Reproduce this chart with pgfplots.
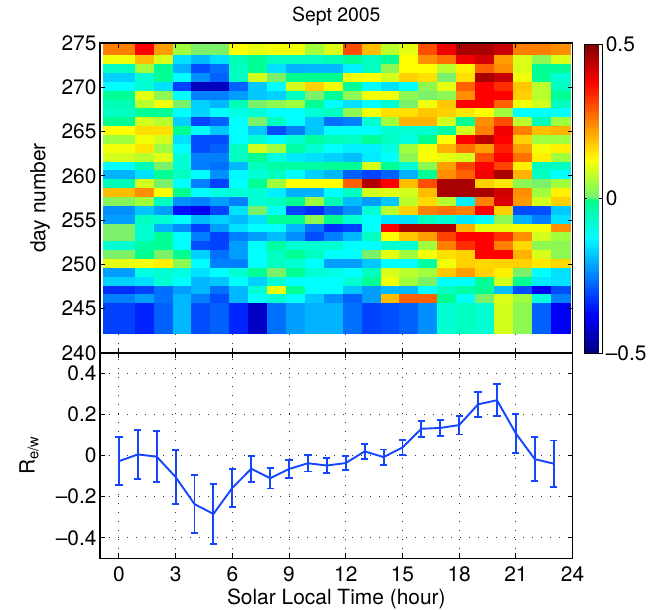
\documentclass[border=0pt]{standalone}
\usepackage{fontspec}
\setmainfont{TeX Gyre Heros}
\usepackage{pgfplots}
\pgfplotsset{compat=1.18}

\definecolor{lineblue}{RGB}{20,70,255}
\newcommand{\lbl}{\fontsize{21}{25}\selectfont}

\pgfplotsset{
  panel/.style={
    scale only axis, width=472.6bp,
    xmin=-1, xmax=24, xtick={0,3,...,24},
    xtick pos=both, ytick pos=both,
    tick align=inside, major tick length=5bp,
    axis line style={line width=1.3bp},
    every tick/.style={black, line width=0.9bp},
    /pgf/number format/assume math mode=true,
    tick label style={font=\lbl},
    label style={font=\lbl},
  },
  dotgrid/.style={grid=major,
    major grid style={black!80, line width=0.9bp, dash pattern=on 1bp off 8bp}},
  % jet-like map as in the figure: spring green just below 0, light green just above
  colormap={figjet}{rgb255(0cm)=(0,0,128); rgb255(1cm)=(0,0,255); rgb255(3cm)=(0,255,255);
    rgb255(3.95cm)=(0,255,140); rgb255(4.05cm)=(120,240,110); rgb255(4.4cm)=(160,255,60);
    rgb255(5cm)=(255,255,0); rgb255(7cm)=(255,0,0); rgb255(8cm)=(128,0,0)},
}

\begin{document}
\begin{tikzpicture}
\useasboundingbox (0,0) rectangle (660bp,-610bp);

% grid of the upper panel, drawn first so the image covers it
\begin{axis}[panel, at={(100bp,-353bp)}, anchor=south west, height=310bp,
  ymin=240, ymax=275, ytick={240,245,...,275},
  xticklabels={}, yticklabels={}, major tick length=0pt,
  axis line style={draw=none}, dotgrid]
\end{axis}

% upper panel: day number vs solar local time
\begin{axis}[panel, at={(100bp,-353bp)}, anchor=south west, height=310bp,
  ymin=240, ymax=275, ytick={240,245,...,275}, xticklabels={},
  axis on top,
  colormap name=figjet, point meta min=-0.5, point meta max=0.5,
  title={Sept 2005},
  title style={font=\fontsize{19.5}{23}\selectfont, at={(axis description cs:0.5,1)}, anchor=base, yshift=16bp},
  ylabel={day number},
  ylabel style={at={(axis description cs:0,0.5)}, anchor=center, xshift=0pt, yshift=60bp},
  colorbar,
  colorbar shift/.style={xshift=11.7bp},
  colorbar style={
    at={(parent axis.north east)}, anchor=north west, yshift=-1bp,
    scale only axis, width=18bp, height=309bp,
    ytick={-0.5,0,0.5}, yticklabels={–0.5,0,0.5},
    yticklabel style={font=\lbl},
    tick align=inside, major tick length=3bp,
    axis line style={line width=0.8bp},
    every tick/.style={black, line width=0.8bp},
  }]
\addplot[surf, shader=flat corner, mesh/rows=31, mesh/cols=25, point meta=explicit]
  table[row sep=\\, x=x, y=y, meta=c] {
x y c\\
-0.85 242.2 -0.31\\ 0.85 242.2 -0.34\\ 1.85 242.2 -0.28\\ 2.85 242.2 -0.195\\ 3.85 242.2 -0.3\\ 4.85 242.2 -0.28\\ 5.85 242.2 -0.34\\ 6.85 242.2 -0.43\\ 7.85 242.2 -0.265\\ 8.85 242.2 -0.22\\ 9.85 242.2 -0.2\\ 10.85 242.2 -0.2\\ 11.85 242.2 -0.265\\ 12.85 242.2 -0.31\\ 13.85 242.2 -0.3\\ 14.85 242.2 -0.28\\ 15.85 242.2 -0.235\\ 16.85 242.2 -0.08\\ 17.85 242.2 -0.06\\ 18.85 242.2 -0.08\\ 19.85 242.2 0.09\\ 20.85 242.2 0.03\\ 21.85 242.2 -0.28\\ 22.85 242.2 -0.38\\ 23.85 242.2 0\\
-0.85 245.7 -0.25\\ 0.85 245.7 -0.22\\ 1.85 245.7 -0.265\\ 2.85 245.7 -0.195\\ 3.85 245.7 -0.25\\ 4.85 245.7 -0.3\\ 5.85 245.7 -0.195\\ 6.85 245.7 -0.125\\ 7.85 245.7 -0.08\\ 8.85 245.7 -0.125\\ 9.85 245.7 -0.18\\ 10.85 245.7 -0.235\\ 11.85 245.7 -0.28\\ 12.85 245.7 -0.22\\ 13.85 245.7 0.19\\ 14.85 245.7 0.28\\ 15.85 245.7 0.28\\ 16.85 245.7 -0.01\\ 17.85 245.7 -0.12\\ 18.85 245.7 0.01\\ 19.85 245.7 0.095\\ 20.85 245.7 0.05\\ 21.85 245.7 -0.095\\ 22.85 245.7 -0.25\\ 23.85 245.7 0\\
-0.85 246.7 -0.33\\ 0.85 246.7 -0.31\\ 1.85 246.7 -0.265\\ 2.85 246.7 -0.22\\ 3.85 246.7 -0.195\\ 4.85 246.7 -0.265\\ 5.85 246.7 -0.195\\ 6.85 246.7 -0.08\\ 7.85 246.7 0.105\\ 8.85 246.7 -0.015\\ 9.85 246.7 -0.125\\ 10.85 246.7 -0.125\\ 11.85 246.7 -0.18\\ 12.85 246.7 -0.22\\ 13.85 246.7 -0.195\\ 14.85 246.7 -0.195\\ 15.85 246.7 -0.125\\ 16.85 246.7 -0.06\\ 17.85 246.7 -0.03\\ 18.85 246.7 -0.01\\ 19.85 246.7 -0.19\\ 20.85 246.7 -0.3\\ 21.85 246.7 -0.39\\ 22.85 246.7 -0.3\\ 23.85 246.7 0\\
-0.85 247.7 -0.17\\ 0.85 247.7 -0.155\\ 1.85 247.7 -0.08\\ 2.85 247.7 -0.125\\ 3.85 247.7 -0.195\\ 4.85 247.7 -0.18\\ 5.85 247.7 -0.125\\ 6.85 247.7 -0.17\\ 7.85 247.7 -0.08\\ 8.85 247.7 -0.125\\ 9.85 247.7 -0.125\\ 10.85 247.7 -0.125\\ 11.85 247.7 -0.08\\ 12.85 247.7 -0.015\\ 13.85 247.7 0.115\\ 14.85 247.7 0.05\\ 15.85 247.7 0.01\\ 16.85 247.7 -0.125\\ 17.85 247.7 -0.125\\ 18.85 247.7 -0.015\\ 19.85 247.7 0.09\\ 20.85 247.7 -0.015\\ 21.85 247.7 -0.145\\ 22.85 247.7 -0.155\\ 23.85 247.7 0\\
-0.85 248.7 -0.22\\ 0.85 248.7 -0.095\\ 1.85 248.7 -0.08\\ 2.85 248.7 -0.095\\ 3.85 248.7 -0.155\\ 4.85 248.7 -0.125\\ 5.85 248.7 -0.08\\ 6.85 248.7 -0.015\\ 7.85 248.7 0.01\\ 8.85 248.7 -0.015\\ 9.85 248.7 -0.08\\ 10.85 248.7 -0.095\\ 11.85 248.7 -0.125\\ 12.85 248.7 -0.06\\ 13.85 248.7 0.095\\ 14.85 248.7 0.07\\ 15.85 248.7 0.05\\ 16.85 248.7 0.18\\ 17.85 248.7 0.22\\ 18.85 248.7 0.17\\ 19.85 248.7 0.14\\ 20.85 248.7 0.01\\ 21.85 248.7 -0.125\\ 22.85 248.7 -0.155\\ 23.85 248.7 0\\
-0.85 249.7 0.105\\ 0.85 249.7 0.115\\ 1.85 249.7 0.14\\ 2.85 249.7 0.03\\ 3.85 249.7 -0.125\\ 4.85 249.7 -0.25\\ 5.85 249.7 -0.25\\ 6.85 249.7 -0.125\\ 7.85 249.7 -0.06\\ 8.85 249.7 -0.08\\ 9.85 249.7 -0.125\\ 10.85 249.7 -0.22\\ 11.85 249.7 -0.22\\ 12.85 249.7 -0.18\\ 13.85 249.7 -0.125\\ 14.85 249.7 -0.125\\ 15.85 249.7 -0.03\\ 16.85 249.7 0.115\\ 17.85 249.7 0.17\\ 18.85 249.7 0.163\\ 19.85 249.7 0.17\\ 20.85 249.7 0.17\\ 21.85 249.7 0.148\\ 22.85 249.7 0.163\\ 23.85 249.7 0\\
-0.85 250.7 0.01\\ 0.85 250.7 -0.01\\ 1.85 250.7 0.01\\ 2.85 250.7 -0.01\\ 3.85 250.7 -0.17\\ 4.85 250.7 -0.265\\ 5.85 250.7 -0.22\\ 6.85 250.7 -0.125\\ 7.85 250.7 -0.06\\ 8.85 250.7 -0.015\\ 9.85 250.7 -0.06\\ 10.85 250.7 -0.125\\ 11.85 250.7 -0.125\\ 12.85 250.7 0.01\\ 13.85 250.7 0.105\\ 14.85 250.7 0.05\\ 15.85 250.7 0.115\\ 16.85 250.7 0.155\\ 17.85 250.7 0.17\\ 18.85 250.7 0.375\\ 19.85 250.7 0.375\\ 20.85 250.7 0.2\\ 21.85 250.7 0.095\\ 22.85 250.7 0.03\\ 23.85 250.7 0\\
-0.85 251.7 -0.08\\ 0.85 251.7 -0.03\\ 1.85 251.7 -0.015\\ 2.85 251.7 -0.125\\ 3.85 251.7 -0.3\\ 4.85 251.7 -0.31\\ 5.85 251.7 -0.22\\ 6.85 251.7 -0.12\\ 7.85 251.7 -0.03\\ 8.85 251.7 -0.08\\ 9.85 251.7 -0.08\\ 10.85 251.7 -0.08\\ 11.85 251.7 -0.125\\ 12.85 251.7 -0.125\\ 13.85 251.7 -0.08\\ 14.85 251.7 -0.08\\ 15.85 251.7 0.05\\ 16.85 251.7 0.25\\ 17.85 251.7 0.33\\ 18.85 251.7 0.375\\ 19.85 251.7 0.25\\ 20.85 251.7 0.163\\ 21.85 251.7 0.03\\ 22.85 251.7 0.03\\ 23.85 251.7 0\\
-0.85 252.7 0.01\\ 0.85 252.7 -0.08\\ 1.85 252.7 -0.015\\ 2.85 252.7 -0.125\\ 3.85 252.7 -0.25\\ 4.85 252.7 -0.31\\ 5.85 252.7 -0.25\\ 6.85 252.7 -0.22\\ 7.85 252.7 -0.19\\ 8.85 252.7 -0.235\\ 9.85 252.7 -0.3\\ 10.85 252.7 -0.25\\ 11.85 252.7 -0.195\\ 12.85 252.7 -0.06\\ 13.85 252.7 0.125\\ 14.85 252.7 0.18\\ 15.85 252.7 0.22\\ 16.85 252.7 0.31\\ 17.85 252.7 0.375\\ 18.85 252.7 0.375\\ 19.85 252.7 0.33\\ 20.85 252.7 0.235\\ 21.85 252.7 0.09\\ 22.85 252.7 0.05\\ 23.85 252.7 0\\
-0.85 253.7 0.01\\ 0.85 253.7 -0.08\\ 1.85 253.7 -0.2\\ 2.85 253.7 -0.235\\ 3.85 253.7 -0.31\\ 4.85 253.7 -0.22\\ 5.85 253.7 -0.155\\ 6.85 253.7 -0.125\\ 7.85 253.7 -0.125\\ 8.85 253.7 -0.195\\ 9.85 253.7 -0.265\\ 10.85 253.7 -0.33\\ 11.85 253.7 -0.31\\ 12.85 253.7 -0.125\\ 13.85 253.7 0.375\\ 14.85 253.7 0.46\\ 15.85 253.7 0.46\\ 16.85 253.7 0.46\\ 17.85 253.7 0.2\\ 18.85 253.7 0.105\\ 19.85 253.7 0.105\\ 20.85 253.7 0.115\\ 21.85 253.7 0.115\\ 22.85 253.7 0.235\\ 23.85 253.7 0\\
-0.85 254.7 -0.22\\ 0.85 254.7 -0.06\\ 1.85 254.7 -0.08\\ 2.85 254.7 -0.125\\ 3.85 254.7 -0.19\\ 4.85 254.7 -0.17\\ 5.85 254.7 -0.19\\ 6.85 254.7 -0.155\\ 7.85 254.7 -0.015\\ 8.85 254.7 -0.015\\ 9.85 254.7 0.03\\ 10.85 254.7 -0.01\\ 11.85 254.7 -0.08\\ 12.85 254.7 -0.125\\ 13.85 254.7 -0.155\\ 14.85 254.7 -0.155\\ 15.85 254.7 -0.06\\ 16.85 254.7 -0.08\\ 17.85 254.7 -0.145\\ 18.85 254.7 -0.12\\ 19.85 254.7 0.03\\ 20.85 254.7 -0.2\\ 21.85 254.7 -0.25\\ 22.85 254.7 -0.155\\ 23.85 254.7 0\\
-0.85 255.7 -0.235\\ 0.85 255.7 -0.18\\ 1.85 255.7 -0.22\\ 2.85 255.7 -0.36\\ 3.85 255.7 -0.39\\ 4.85 255.7 -0.31\\ 5.85 255.7 -0.155\\ 6.85 255.7 0.01\\ 7.85 255.7 -0.12\\ 8.85 255.7 -0.31\\ 9.85 255.7 -0.33\\ 10.85 255.7 -0.28\\ 11.85 255.7 -0.235\\ 12.85 255.7 -0.08\\ 13.85 255.7 0.07\\ 14.85 255.7 0.17\\ 15.85 255.7 0.25\\ 16.85 255.7 0.265\\ 17.85 255.7 0.25\\ 18.85 255.7 0.375\\ 19.85 255.7 0.17\\ 20.85 255.7 -0.3\\ 21.85 255.7 -0.3\\ 22.85 255.7 -0.18\\ 23.85 255.7 0\\
-0.85 256.7 0.02\\ 0.85 256.7 0.05\\ 1.85 256.7 -0.06\\ 2.85 256.7 -0.235\\ 3.85 256.7 -0.25\\ 4.85 256.7 -0.22\\ 5.85 256.7 -0.25\\ 6.85 256.7 -0.08\\ 7.85 256.7 -0.06\\ 8.85 256.7 -0.015\\ 9.85 256.7 0.05\\ 10.85 256.7 -0.05\\ 11.85 256.7 -0.19\\ 12.85 256.7 -0.22\\ 13.85 256.7 -0.18\\ 14.85 256.7 0.07\\ 15.85 256.7 0.163\\ 16.85 256.7 0.07\\ 17.85 256.7 -0.14\\ 18.85 256.7 0.25\\ 19.85 256.7 0.41\\ 20.85 256.7 0.225\\ 21.85 256.7 0.09\\ 22.85 256.7 0.17\\ 23.85 256.7 0\\
-0.85 257.7 0.19\\ 0.85 257.7 0.235\\ 1.85 257.7 0.125\\ 2.85 257.7 -0.01\\ 3.85 257.7 -0.125\\ 4.85 257.7 -0.095\\ 5.85 257.7 -0.08\\ 6.85 257.7 -0.08\\ 7.85 257.7 -0.14\\ 8.85 257.7 -0.2\\ 9.85 257.7 -0.2\\ 10.85 257.7 -0.125\\ 11.85 257.7 -0.06\\ 12.85 257.7 0.09\\ 13.85 257.7 0.1\\ 14.85 257.7 0.09\\ 15.85 257.7 0.19\\ 16.85 257.7 0.46\\ 17.85 257.7 0.46\\ 18.85 257.7 0.46\\ 19.85 257.7 0.42\\ 20.85 257.7 0.235\\ 21.85 257.7 0.05\\ 22.85 257.7 0.14\\ 23.85 257.7 0\\
-0.85 258.7 -0.05\\ 0.85 258.7 0.09\\ 1.85 258.7 0.01\\ 2.85 258.7 -0.125\\ 3.85 258.7 -0.25\\ 4.85 258.7 -0.31\\ 5.85 258.7 -0.125\\ 6.85 258.7 -0.015\\ 7.85 258.7 0.05\\ 8.85 258.7 0.125\\ 9.85 258.7 0.125\\ 10.85 258.7 0.125\\ 11.85 258.7 0.28\\ 12.85 258.7 0.45\\ 13.85 258.7 0.375\\ 14.85 258.7 0.19\\ 15.85 258.7 0.3\\ 16.85 258.7 0.46\\ 17.85 258.7 0.46\\ 18.85 258.7 0.17\\ 19.85 258.7 0.148\\ 20.85 258.7 0.03\\ 21.85 258.7 0.01\\ 22.85 258.7 0.05\\ 23.85 258.7 0\\
-0.85 259.7 -0.2\\ 0.85 259.7 -0.155\\ 1.85 259.7 -0.015\\ 2.85 259.7 -0.06\\ 3.85 259.7 -0.125\\ 4.85 259.7 -0.235\\ 5.85 259.7 -0.13\\ 6.85 259.7 -0.08\\ 7.85 259.7 -0.06\\ 8.85 259.7 -0.125\\ 9.85 259.7 -0.17\\ 10.85 259.7 -0.195\\ 11.85 259.7 -0.28\\ 12.85 259.7 -0.31\\ 13.85 259.7 -0.28\\ 14.85 259.7 -0.2\\ 15.85 259.7 -0.015\\ 16.85 259.7 0.235\\ 17.85 259.7 0.28\\ 18.85 259.7 0.39\\ 19.85 259.7 0.46\\ 20.85 259.7 0.2\\ 21.85 259.7 -0.06\\ 22.85 259.7 -0.125\\ 23.85 259.7 0\\
-0.85 260.7 -0.125\\ 0.85 260.7 -0.05\\ 1.85 260.7 0.01\\ 2.85 260.7 -0.08\\ 3.85 260.7 -0.25\\ 4.85 260.7 -0.265\\ 5.85 260.7 -0.195\\ 6.85 260.7 -0.06\\ 7.85 260.7 -0.03\\ 8.85 260.7 -0.03\\ 9.85 260.7 -0.03\\ 10.85 260.7 -0.015\\ 11.85 260.7 -0.015\\ 12.85 260.7 0.09\\ 13.85 260.7 -0.015\\ 14.85 260.7 -0.08\\ 15.85 260.7 0.03\\ 16.85 260.7 0.22\\ 17.85 260.7 0.31\\ 18.85 260.7 0.375\\ 19.85 260.7 0.31\\ 20.85 260.7 0.14\\ 21.85 260.7 -0.06\\ 22.85 260.7 -0.06\\ 23.85 260.7 0\\
-0.85 261.7 0.09\\ 0.85 261.7 0.07\\ 1.85 261.7 0.1\\ 2.85 261.7 -0.08\\ 3.85 261.7 -0.25\\ 4.85 261.7 -0.25\\ 5.85 261.7 -0.06\\ 6.85 261.7 -0.01\\ 7.85 261.7 -0.095\\ 8.85 261.7 -0.145\\ 9.85 261.7 -0.155\\ 10.85 261.7 -0.17\\ 11.85 261.7 -0.19\\ 12.85 261.7 -0.145\\ 13.85 261.7 -0.125\\ 14.85 261.7 0.03\\ 15.85 261.7 0.125\\ 16.85 261.7 0.105\\ 17.85 261.7 0.09\\ 18.85 261.7 0.3\\ 19.85 261.7 0.375\\ 20.85 261.7 0.265\\ 21.85 261.7 0.14\\ 22.85 261.7 0.05\\ 23.85 261.7 0\\
-0.85 262.7 0.115\\ 0.85 262.7 0.148\\ 1.85 262.7 0.05\\ 2.85 262.7 -0.125\\ 3.85 262.7 -0.3\\ 4.85 262.7 -0.28\\ 5.85 262.7 -0.06\\ 6.85 262.7 0.09\\ 7.85 262.7 0.05\\ 8.85 262.7 -0.03\\ 9.85 262.7 -0.08\\ 10.85 262.7 -0.125\\ 11.85 262.7 -0.14\\ 12.85 262.7 -0.14\\ 13.85 262.7 -0.095\\ 14.85 262.7 0.05\\ 15.85 262.7 0.115\\ 16.85 262.7 0.2\\ 17.85 262.7 0.265\\ 18.85 262.7 0.22\\ 19.85 262.7 0.345\\ 20.85 262.7 0.22\\ 21.85 262.7 0.115\\ 22.85 262.7 0.14\\ 23.85 262.7 0\\
-0.85 263.7 0.05\\ 0.85 263.7 0.115\\ 1.85 263.7 0.09\\ 2.85 263.7 -0.155\\ 3.85 263.7 -0.3\\ 4.85 263.7 -0.3\\ 5.85 263.7 -0.125\\ 6.85 263.7 -0.08\\ 7.85 263.7 -0.125\\ 8.85 263.7 -0.08\\ 9.85 263.7 -0.03\\ 10.85 263.7 -0.05\\ 11.85 263.7 -0.06\\ 12.85 263.7 -0.015\\ 13.85 263.7 -0.06\\ 14.85 263.7 -0.095\\ 15.85 263.7 -0.01\\ 16.85 263.7 0.125\\ 17.85 263.7 0.375\\ 18.85 263.7 0.44\\ 19.85 263.7 0.375\\ 20.85 263.7 0.17\\ 21.85 263.7 0.05\\ 22.85 263.7 0.05\\ 23.85 263.7 0\\
-0.85 264.7 0.125\\ 0.85 264.7 0.155\\ 1.85 264.7 0.155\\ 2.85 264.7 -0.01\\ 3.85 264.7 -0.125\\ 4.85 264.7 -0.18\\ 5.85 264.7 -0.125\\ 6.85 264.7 -0.18\\ 7.85 264.7 -0.3\\ 8.85 264.7 -0.25\\ 9.85 264.7 -0.18\\ 10.85 264.7 -0.125\\ 11.85 264.7 -0.125\\ 12.85 264.7 -0.125\\ 13.85 264.7 -0.08\\ 14.85 264.7 -0.08\\ 15.85 264.7 -0.08\\ 16.85 264.7 -0.03\\ 17.85 264.7 0.09\\ 18.85 264.7 0.25\\ 19.85 264.7 0.39\\ 20.85 264.7 0.25\\ 21.85 264.7 0.19\\ 22.85 264.7 0.2\\ 23.85 264.7 0\\
-0.85 265.7 -0.01\\ 0.85 265.7 0.09\\ 1.85 265.7 0.07\\ 2.85 265.7 -0.17\\ 3.85 265.7 -0.31\\ 4.85 265.7 -0.28\\ 5.85 265.7 -0.125\\ 6.85 265.7 0.01\\ 7.85 265.7 -0.06\\ 8.85 265.7 -0.125\\ 9.85 265.7 -0.18\\ 10.85 265.7 -0.265\\ 11.85 265.7 -0.25\\ 12.85 265.7 -0.08\\ 13.85 265.7 0.05\\ 14.85 265.7 0.2\\ 15.85 265.7 0.2\\ 16.85 265.7 0.09\\ 17.85 265.7 -0.015\\ 18.85 265.7 0.235\\ 19.85 265.7 0.3\\ 20.85 265.7 0.07\\ 21.85 265.7 -0.05\\ 22.85 265.7 0.05\\ 23.85 265.7 0\\
-0.85 266.7 -0.06\\ 0.85 266.7 -0.015\\ 1.85 266.7 -0.015\\ 2.85 266.7 -0.125\\ 3.85 266.7 -0.17\\ 4.85 266.7 -0.125\\ 5.85 266.7 -0.095\\ 6.85 266.7 -0.08\\ 7.85 266.7 -0.125\\ 8.85 266.7 -0.125\\ 9.85 266.7 -0.08\\ 10.85 266.7 -0.06\\ 11.85 266.7 0.03\\ 12.85 266.7 0.115\\ 13.85 266.7 0.155\\ 14.85 266.7 0.155\\ 15.85 266.7 0.18\\ 16.85 266.7 0.17\\ 17.85 266.7 0.148\\ 18.85 266.7 0.125\\ 19.85 266.7 0.05\\ 20.85 266.7 -0.125\\ 21.85 266.7 -0.125\\ 22.85 266.7 -0.125\\ 23.85 266.7 0\\
-0.85 267.7 -0.05\\ 0.85 267.7 0.07\\ 1.85 267.7 0.115\\ 2.85 267.7 0.01\\ 3.85 267.7 -0.17\\ 4.85 267.7 -0.195\\ 5.85 267.7 -0.05\\ 6.85 267.7 0.01\\ 7.85 267.7 0.03\\ 8.85 267.7 0.05\\ 9.85 267.7 -0.015\\ 10.85 267.7 -0.125\\ 11.85 267.7 -0.155\\ 12.85 267.7 -0.125\\ 13.85 267.7 -0.08\\ 14.85 267.7 0.01\\ 15.85 267.7 0.115\\ 16.85 267.7 0.18\\ 17.85 267.7 0.375\\ 18.85 267.7 0.375\\ 19.85 267.7 0.28\\ 20.85 267.7 0.115\\ 21.85 267.7 0.09\\ 22.85 267.7 -0.06\\ 23.85 267.7 0\\
-0.85 268.7 -0.015\\ 0.85 268.7 0.105\\ 1.85 268.7 0.03\\ 2.85 268.7 -0.125\\ 3.85 268.7 -0.25\\ 4.85 268.7 -0.25\\ 5.85 268.7 -0.22\\ 6.85 268.7 -0.18\\ 7.85 268.7 -0.17\\ 8.85 268.7 -0.06\\ 9.85 268.7 0.01\\ 10.85 268.7 -0.015\\ 11.85 268.7 0.03\\ 12.85 268.7 0.115\\ 13.85 268.7 0.115\\ 14.85 268.7 0.03\\ 15.85 268.7 0.01\\ 16.85 268.7 0.03\\ 17.85 268.7 0.235\\ 18.85 268.7 0.375\\ 19.85 268.7 0.375\\ 20.85 268.7 0.17\\ 21.85 268.7 0.07\\ 22.85 268.7 -0.015\\ 23.85 268.7 0\\
-0.85 269.7 -0.125\\ 0.85 269.7 -0.08\\ 1.85 269.7 -0.155\\ 2.85 269.7 -0.31\\ 3.85 269.7 -0.44\\ 4.85 269.7 -0.44\\ 5.85 269.7 -0.28\\ 6.85 269.7 -0.18\\ 7.85 269.7 -0.125\\ 8.85 269.7 0.09\\ 9.85 269.7 0.17\\ 10.85 269.7 0.115\\ 11.85 269.7 -0.015\\ 12.85 269.7 -0.125\\ 13.85 269.7 -0.155\\ 14.85 269.7 -0.125\\ 15.85 269.7 0.03\\ 16.85 269.7 0.105\\ 17.85 269.7 0.28\\ 18.85 269.7 0.375\\ 19.85 269.7 0.33\\ 20.85 269.7 0.18\\ 21.85 269.7 0.07\\ 22.85 269.7 -0.06\\ 23.85 269.7 0\\
-0.85 270.7 -0.17\\ 0.85 270.7 -0.08\\ 1.85 270.7 -0.015\\ 2.85 270.7 -0.125\\ 3.85 270.7 -0.235\\ 4.85 270.7 -0.28\\ 5.85 270.7 -0.06\\ 6.85 270.7 0.09\\ 7.85 270.7 0.01\\ 8.85 270.7 -0.01\\ 9.85 270.7 -0.01\\ 10.85 270.7 -0.01\\ 11.85 270.7 0.115\\ 12.85 270.7 0.125\\ 13.85 270.7 0.09\\ 14.85 270.7 0.17\\ 15.85 270.7 0.155\\ 16.85 270.7 0.01\\ 17.85 270.7 0.155\\ 18.85 270.7 0.46\\ 19.85 270.7 0.43\\ 20.85 270.7 0.115\\ 21.85 270.7 -0.015\\ 22.85 270.7 -0.08\\ 23.85 270.7 0\\
-0.85 271.7 -0.06\\ 0.85 271.7 0.05\\ 1.85 271.7 -0.015\\ 2.85 271.7 -0.2\\ 3.85 271.7 -0.3\\ 4.85 271.7 -0.265\\ 5.85 271.7 -0.06\\ 6.85 271.7 -0.015\\ 7.85 271.7 -0.155\\ 8.85 271.7 -0.2\\ 9.85 271.7 -0.195\\ 10.85 271.7 -0.195\\ 11.85 271.7 -0.14\\ 12.85 271.7 -0.06\\ 13.85 271.7 0.03\\ 14.85 271.7 0.125\\ 15.85 271.7 0.125\\ 16.85 271.7 0.07\\ 17.85 271.7 0.14\\ 18.85 271.7 0.28\\ 19.85 271.7 0.235\\ 20.85 271.7 0.095\\ 21.85 271.7 -0.015\\ 22.85 271.7 -0.015\\ 23.85 271.7 0\\
-0.85 272.7 0.115\\ 0.85 272.7 0.19\\ 1.85 272.7 0.095\\ 2.85 272.7 -0.155\\ 3.85 272.7 -0.19\\ 4.85 272.7 -0.155\\ 5.85 272.7 -0.05\\ 6.85 272.7 -0.015\\ 7.85 272.7 -0.06\\ 8.85 272.7 -0.06\\ 9.85 272.7 -0.06\\ 10.85 272.7 -0.05\\ 11.85 272.7 -0.015\\ 12.85 272.7 -0.06\\ 13.85 272.7 -0.015\\ 14.85 272.7 0.125\\ 15.85 272.7 0.235\\ 16.85 272.7 0.265\\ 17.85 272.7 0.39\\ 18.85 272.7 0.42\\ 19.85 272.7 0.22\\ 20.85 272.7 0.095\\ 21.85 272.7 0.03\\ 22.85 272.7 0.095\\ 23.85 272.7 0\\
-0.85 273.7 0.25\\ 0.85 273.7 0.375\\ 1.85 273.7 0.22\\ 2.85 273.7 0.05\\ 3.85 273.7 0.01\\ 4.85 273.7 0.01\\ 5.85 273.7 0.125\\ 6.85 273.7 0.105\\ 7.85 273.7 0.115\\ 8.85 273.7 0.115\\ 9.85 273.7 0.05\\ 10.85 273.7 0.095\\ 11.85 273.7 0.3\\ 12.85 273.7 0.19\\ 13.85 273.7 0.07\\ 14.85 273.7 0.105\\ 15.85 273.7 0.3\\ 16.85 273.7 0.39\\ 17.85 273.7 0.46\\ 18.85 273.7 0.46\\ 19.85 273.7 0.43\\ 20.85 273.7 0.25\\ 21.85 273.7 0.25\\ 22.85 273.7 0.235\\ 23.85 273.7 0\\
-0.85 275 0\\ 0.85 275 0\\ 1.85 275 0\\ 2.85 275 0\\ 3.85 275 0\\ 4.85 275 0\\ 5.85 275 0\\ 6.85 275 0\\ 7.85 275 0\\ 8.85 275 0\\ 9.85 275 0\\ 10.85 275 0\\ 11.85 275 0\\ 12.85 275 0\\ 13.85 275 0\\ 14.85 275 0\\ 15.85 275 0\\ 16.85 275 0\\ 17.85 275 0\\ 18.85 275 0\\ 19.85 275 0\\ 20.85 275 0\\ 21.85 275 0\\ 22.85 275 0\\ 23.85 275 0\\
};
\end{axis}

% lower panel: R_e/w with error bars
\begin{axis}[panel, at={(100bp,-353bp)}, anchor=north west, height=205.3bp,
  ymin=-0.5, ymax=0.5, ytick={-0.4,-0.2,0,0.2,0.4},
  yticklabels={–0.4,–0.2,0,0.2,0.4},
  xticklabel style={yshift=-5bp},
  dotgrid,
  xlabel={Solar Local Time (hour)},
  xlabel style={at={(axis description cs:0.5,0)}, anchor=base, yshift=-46bp},
  ylabel={R\textsubscript{e/w}},
  ylabel style={at={(axis description cs:0,0.5)}, anchor=center, xshift=0pt, yshift=71bp}]
% mean values
\addplot[color=lineblue, line width=1.9bp] coordinates {
(0,-0.027) (1,0.006) (2,-0.005) (3,-0.104) (4,-0.236) (5,-0.284)
(6,-0.157) (7,-0.064) (8,-0.11) (9,-0.065) (10,-0.037) (11,-0.048)
(12,-0.036) (13,0.021) (14,-0.007) (15,0.04) (16,0.131) (17,0.135)
(18,0.149) (19,0.25) (20,0.27) (21,0.108) (22,-0.017) (23,-0.039)
};
% error bars: lower and upper ends, one bar per hour
\addplot[color=lineblue, line width=1.9bp, unbounded coords=jump,
  mark=-, mark size=3.6bp, mark options={solid}] coordinates {
(0,-0.144) (0,0.09) (0,nan)
(1,-0.114) (1,0.126) (1,nan)
(2,-0.129) (2,0.119) (2,nan)
(3,-0.237) (3,0.029) (3,nan)
(4,-0.377) (4,-0.095) (4,nan)
(5,-0.43) (5,-0.138) (5,nan)
(6,-0.25) (6,-0.064) (6,nan)
(7,-0.127) (7,-0.001) (7,nan)
(8,-0.16) (8,-0.06) (8,nan)
(9,-0.109) (9,-0.021) (9,nan)
(10,-0.077) (10,0.003) (10,nan)
(11,-0.086) (11,-0.01) (11,nan)
(12,-0.072) (12,0.0) (12,nan)
(13,-0.015) (13,0.057) (13,nan)
(14,-0.044) (14,0.03) (14,nan)
(15,0.003) (15,0.077) (15,nan)
(16,0.092) (16,0.17) (16,nan)
(17,0.095) (17,0.175) (17,nan)
(18,0.103) (18,0.195) (18,nan)
(19,0.19) (19,0.31) (19,nan)
(20,0.193) (20,0.347) (20,nan)
(21,0.012) (21,0.204) (21,nan)
(22,-0.124) (22,0.09) (22,nan)
(23,-0.152) (23,0.074)
};
\end{axis}
\end{tikzpicture}
\end{document}
